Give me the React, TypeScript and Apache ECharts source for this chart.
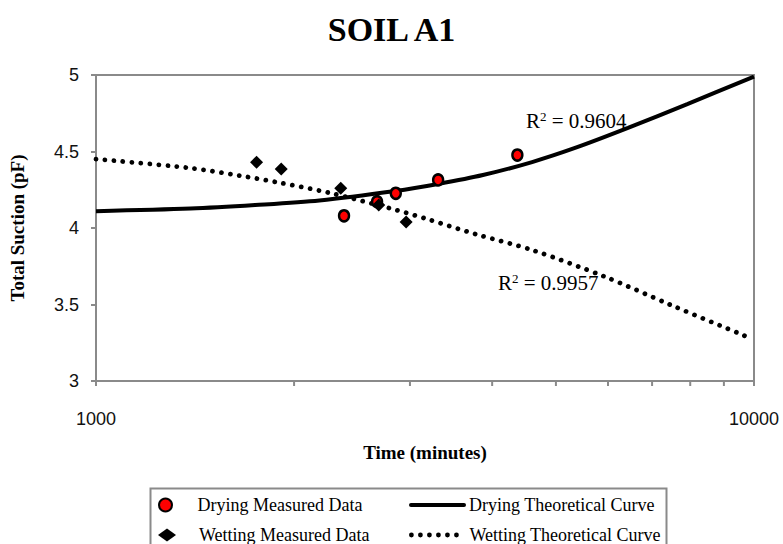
import React, { useEffect, useRef } from 'react';
import * as echarts from 'echarts';

// Measured data (time in minutes, total suction in pF)
const dryingMeasuredTime = [2382, 2674, 2855, 3311, 4369];
const dryingMeasuredSuction = [4.08, 4.172, 4.227, 4.314, 4.477];
const wettingMeasuredTime = [1754, 1912, 2355, 2690, 2960];
const wettingMeasuredSuction = [4.43, 4.386, 4.26, 4.15, 4.04];

// Theoretical curves
const dryingCurveTime = [1000, 1392, 1745, 2185, 2850, 3311, 3873, 4600, 5346, 6434, 7918, 10000];
const dryingCurveSuction = [4.11, 4.127, 4.15, 4.18, 4.242, 4.288, 4.346, 4.431, 4.523, 4.654, 4.81, 4.99];
const wettingCurveTime = [1000, 1377, 1655, 1880, 2262, 2801, 3162, 3781, 4601, 5933, 7474, 9750];
const wettingCurveSuction = [4.45, 4.394, 4.342, 4.3, 4.23, 4.128, 4.063, 3.959, 3.856, 3.682, 3.497, 3.29];

// Axis ticks
const xMin = 1000;
const xMax = 10000;
const xMinorTicks = [2000, 3000, 4000, 5000, 6000, 7000, 8000, 9000];
const yMin = 3;
const yMax = 5;
const yInterval = 0.5;

const dryingR2 = '0.9604';
const wettingR2 = '0.9957';

const SERIF = '"Liberation Serif", "Times New Roman", serif';
const SANS = '"Liberation Sans", Arial, sans-serif';
const GREY = '#8a8a8a';
const DOT_DASH = [0.01, 9];

const zip = (a: number[], b: number[]) => a.map((v, i) => [v, b[i]]);

export default function App() {
  const ref = useRef<HTMLDivElement>(null);

  useEffect(() => {
    if (!ref.current) return;
    const chart = echarts.init(ref.current, undefined, { renderer: 'svg' });

    const r2Rich = {
      n: { fontFamily: SERIF, fontSize: 21, color: '#000', lineHeight: 22 },
      s: { fontFamily: SERIF, fontSize: 13, color: '#000', verticalAlign: 'top', lineHeight: 12 },
    };

    const legendText = { fontFamily: SERIF, fontSize: 18, color: '#000', lineHeight: 14 };
    const markerLegend = (name: string, top: number) => ({
      data: [name],
      left: 158,
      top,
      padding: 0,
      itemWidth: 18,
      itemHeight: 13,
      selectedMode: false,
      textStyle: { ...legendText, padding: [0, 0, 0, 18] },
    });
    const lineLegend = (name: string, top: number, dotted: boolean) => ({
      data: [name],
      left: 409,
      top,
      padding: 0,
      itemWidth: dotted ? 50 : 53,
      itemHeight: 13,
      selectedMode: false,
      itemStyle: { opacity: 0 },
      lineStyle: dotted
        ? { width: 4.8, color: '#000', type: DOT_DASH, cap: 'round' }
        : { width: 4, color: '#000', type: 'solid', cap: 'round' },
      textStyle: { ...legendText, padding: [0, 0, 0, dotted ? 3 : 0] },
    });

    chart.setOption({
      animation: false,
      backgroundColor: '#fff',
      title: {
        text: 'SOIL A1',
        left: 'center',
        top: 7,
        textStyle: { fontFamily: SERIF, fontSize: 34, fontWeight: 'bold', color: '#000' },
      },
      grid: {
        left: 89,
        top: 75,
        width: 665,
        height: 306,
        show: true,
        borderColor: GREY,
        borderWidth: 2,
        backgroundColor: 'transparent',
      },
      xAxis: {
        type: 'log',
        logBase: 10,
        min: xMin,
        max: xMax,
        name: 'Time (minutes)',
        nameLocation: 'middle',
        nameGap: 62,
        nameTextStyle: { fontFamily: SERIF, fontSize: 19, fontWeight: 'bold', color: '#000' },
        axisLine: { show: true, lineStyle: { color: GREY, width: 2 } },
        axisTick: { show: true, length: 5, inside: false, lineStyle: { color: GREY, width: 2 } },
        axisLabel: {
          fontFamily: SANS,
          fontSize: 18,
          color: '#111',
          margin: 29,
          formatter: (v: number) => String(Math.round(v)),
        },
        splitLine: { show: false },
        minorTick: { show: false },
      },
      yAxis: {
        type: 'value',
        min: yMin,
        max: yMax,
        interval: yInterval,
        name: 'Total Suction (pF)',
        nameLocation: 'middle',
        nameGap: 69,
        nameTextStyle: { fontFamily: SERIF, fontSize: 19, fontWeight: 'bold', color: '#000' },
        axisLine: { show: true, lineStyle: { color: GREY, width: 2 } },
        axisTick: { show: true, length: 5, inside: false, lineStyle: { color: GREY, width: 2 } },
        axisLabel: { fontFamily: SANS, fontSize: 18, color: '#111', margin: 17 },
        splitLine: { show: false },
      },
      legend: [
        markerLegend('Drying Measured Data', 496),
        markerLegend('Wetting Measured Data', 526),
        lineLegend('Drying Theoretical Curve', 496, false),
        lineLegend('Wetting Theoretical Curve', 526, true),
      ],
      graphic: [
        {
          type: 'rect',
          left: 148,
          top: 486,
          shape: { width: 516, height: 80 },
          style: { fill: 'none', stroke: GREY, lineWidth: 2 },
          silent: true,
        },
        {
          type: 'text',
          left: 526,
          top: 110,
          style: { text: `{n|R}{s|2}{n| = ${dryingR2}}`, rich: r2Rich },
          silent: true,
        },
        {
          type: 'text',
          left: 498,
          top: 272,
          style: { text: `{n|R}{s|2}{n| = ${wettingR2}}`, rich: r2Rich },
          silent: true,
        },
      ],
      series: [
        {
          name: 'Drying Theoretical Curve',
          type: 'line',
          data: zip(dryingCurveTime, dryingCurveSuction),
          showSymbol: false,
          symbol: 'none',
          smooth: 0.3,
          lineStyle: { color: '#000', width: 4 },
          itemStyle: { color: '#000' },
          z: 2,
        },
        {
          name: 'Wetting Theoretical Curve',
          type: 'line',
          data: zip(wettingCurveTime, wettingCurveSuction),
          showSymbol: false,
          symbol: 'none',
          smooth: 0.3,
          lineStyle: { color: '#000', width: 4.8, type: DOT_DASH, cap: 'round' },
          itemStyle: { color: '#000' },
          z: 2,
        },
        {
          name: 'Drying Measured Data',
          type: 'scatter',
          data: zip(dryingMeasuredTime, dryingMeasuredSuction),
          symbol: 'circle',
          symbolSize: [10, 11],
          itemStyle: { color: '#ff0000', borderColor: '#000', borderWidth: 2.5, opacity: 1 },
          z: 3,
        },
        {
          name: 'Wetting Measured Data',
          type: 'scatter',
          data: zip(wettingMeasuredTime, wettingMeasuredSuction),
          symbol: 'diamond',
          symbolSize: 13,
          symbolKeepAspect: true,
          itemStyle: { color: '#000', opacity: 1 },
          z: 4,
        },
        {
          name: 'xMinorTicks',
          type: 'custom',
          silent: true,
          clip: false,
          data: xMinorTicks.map((v) => [v, yMin]),
          encode: { x: 0, y: 1 },
          renderItem: (_params: any, api: any) => {
            const p = api.coord([api.value(0), api.value(1)]);
            return {
              type: 'line',
              shape: { x1: p[0], y1: p[1], x2: p[0], y2: p[1] + 5 },
              style: { stroke: GREY, lineWidth: 2 },
            };
          },
          z: 1,
        },
      ],
    });

    return () => chart.dispose();
  }, []);

  return <div ref={ref} style={{ width: 783, height: 544, position: 'absolute', left: 0, top: 0 }} />;
}
